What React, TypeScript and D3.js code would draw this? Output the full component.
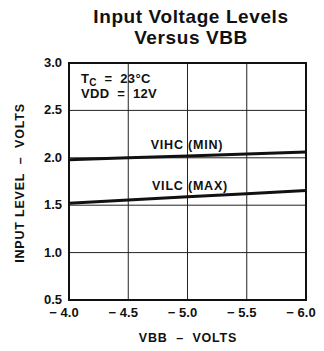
import React from "react";
import * as d3 from "d3";

const vbb = [-4.0, -4.5, -5.0, -5.5, -6.0];
const vihc = [1.98, 2.0, 2.02, 2.04, 2.06];
const vilc = [1.52, 1.555, 1.59, 1.62, 1.655];
const xTicks = [-4.0, -4.5, -5.0, -5.5, -6.0];
const yTicks = [0.5, 1.0, 1.5, 2.0, 2.5, 3.0];
const titleLines = ["Input Voltage Levels", "Versus VBB"];

const W = 324, H = 351;
const L = 69, R = 306, T = 63, B = 300;
const FONT = "'Liberation Sans', Arial, Helvetica, sans-serif";
const NB = "\u00a0";

export default function App() {
  const x = d3.scaleLinear().domain([-4, -6]).range([L, R]);
  const y = d3.scaleLinear().domain([0.5, 3.0]).range([B, T]);
  const line = d3.line<number>().x((_, i) => x(vbb[i])).y((d) => y(d));

  return (
    <svg width={W} height={H} style={{ position: "absolute", left: 0, top: 0, background: "#fff" }}
      fontFamily={FONT} fontWeight="bold" fill="#111">
      <rect x={0} y={0} width={W} height={H} fill="#fff" />
      {titleLines.map((t, i) => (
        <text key={t} x={191} y={23 + i * 21} textAnchor="middle" fontSize={19} letterSpacing={0.6}>{t}</text>
      ))}
      {xTicks.slice(1, -1).map((v) => (
        <line key={"gx" + v} x1={x(v)} x2={x(v)} y1={T} y2={B} stroke="#222" strokeWidth={1} />
      ))}
      {yTicks.slice(1, -1).map((v) => (
        <line key={"gy" + v} x1={L} x2={R} y1={y(v)} y2={y(v)} stroke="#222" strokeWidth={1} />
      ))}
      <rect x={L} y={T} width={R - L} height={B - T} fill="none" stroke="#111" strokeWidth={2} />
      <path d={line(vihc) || ""} fill="none" stroke="#111" strokeWidth={3} />
      <path d={line(vilc) || ""} fill="none" stroke="#111" strokeWidth={3} />
      {yTicks.map((v) => (
        <text key={"ty" + v} x={62} y={y(v) + 4} textAnchor="end" fontSize={13}>{v.toFixed(1)}</text>
      ))}
      {xTicks.map((v) => (
        <text key={"tx" + v} x={x(v) - 5} y={317} textAnchor="middle" fontSize={13}>
          {"\u2212" + NB + Math.abs(v).toFixed(1)}
        </text>
      ))}
      <text x={81} y={83} fontSize={13} letterSpacing={0.3}>
        T<tspan fontSize={10} dy={2.5}>C</tspan><tspan dy={-2.5}>{NB + NB + "=" + NB + NB + "23°C"}</tspan>
      </text>
      <text x={81} y={98} fontSize={13} letterSpacing={0.3}>{"VDD" + NB + NB + "=" + NB + NB + "12V"}</text>
      <text x={187} y={149} textAnchor="middle" fontSize={12.5} letterSpacing={0.8}>VIHC (MIN)</text>
      <text x={190} y={190} textAnchor="middle" fontSize={12.5} letterSpacing={0.8}>VILC (MAX)</text>
      <text x={188} y={342} textAnchor="middle" fontSize={12.5} letterSpacing={0.8}>
        {"VBB" + NB + NB + "–" + NB + NB + "VOLTS"}
      </text>
      <text transform={`translate(24,183) rotate(-90)`} textAnchor="middle" fontSize={12.5} letterSpacing={0.8}>
        {"INPUT LEVEL" + NB + NB + "–" + NB + NB + "VOLTS"}
      </text>
    </svg>
  );
}
